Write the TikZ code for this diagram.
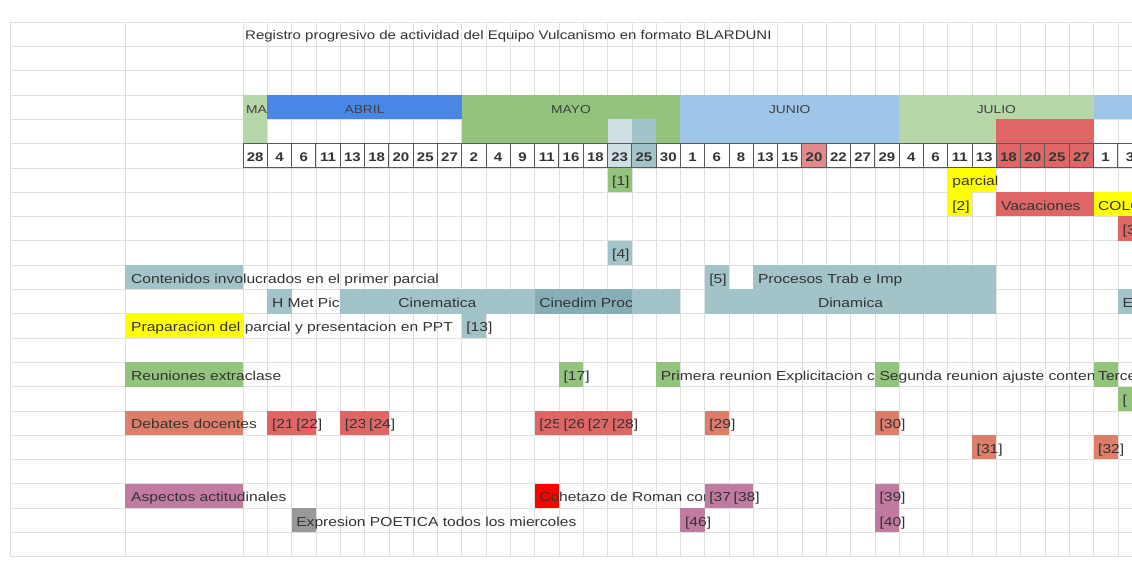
\documentclass[tikz,border=0pt]{standalone}
\usepackage{fontspec}
\setmainfont{Liberation Sans}[FakeStretch=1.2]
\definecolor{julg}{HTML}{B6D7A8}
\definecolor{abril}{HTML}{4A86E8}
\definecolor{mayo}{HTML}{93C47D}
\definecolor{junio}{HTML}{9FC5E8}
\definecolor{rojo}{HTML}{E06666}
\definecolor{rojoclaro}{HTML}{E58A8A}
\definecolor{gl}{HTML}{D0DFE3}
\definecolor{gb}{HTML}{A2C4C9}
\definecolor{cyand}{HTML}{86AEB7}
\definecolor{amar}{HTML}{FFFF00}
\definecolor{salm}{HTML}{DD7E6B}
\definecolor{rosa}{HTML}{C27BA0}
\definecolor{rojov}{HTML}{FF0000}
\definecolor{gris}{HTML}{999999}
\tikzset{
 gridline/.style={draw=black!12, line width=0.6pt},
 txt/.style={anchor=base west, inner sep=0pt, font=\fontsize{13}{15}\selectfont, text=black!80},
 ctr/.style={anchor=base, inner sep=0pt, font=\fontsize{13}{15}\selectfont, text=black!80},
 datebox/.style={draw=black!65, line width=0.9pt},
 datetxt/.style={anchor=base, inner sep=0pt, font=\bfseries\fontsize{12.5}{14}\selectfont, text=black!80},
 monthtxt/.style={anchor=base, inner sep=0pt, font=\fontsize{11.5}{13}\selectfont, text=black!75},
}
% fill columns #1..#2 in row #3 with colour #4
\newcommand{\Fc}[4]{\fill[#4] ({243+24.3*(#1)},{22+24.3*(#3)}) rectangle ({243+24.3*(#2+1)},{22+24.3*(#3+1)});}
% text: name, start col, row, clip-end col, text
\newcommand{\Tx}[5]{\begin{scope}
\clip ({243+24.3*(#2)},{22+24.3*(#3)}) rectangle ({243+24.3*(#4)},{22+24.3*(#3+1)});
\node[txt] (#1) at ({243+24.3*(#2)+4.5},{22+24.3*(#3)+18}) {#5};
\end{scope}}
% centred text: name, col from, col to, row, text
\newcommand{\Tc}[5]{\node[ctr] (#1) at ({243+24.3*((#2)+(#3)+1)/2},{22+24.3*(#4)+18}) {#5};}
% column B label: name, row, colour, text
\newcommand{\Bl}[4]{\fill[#3] (125,{22+24.3*(#2)}) rectangle (243,{22+24.3*(#2+1)});
\node[txt] (#1) at (131,{22+24.3*(#2)+18}) {#4};}
\begin{document}
\begin{tikzpicture}[x=1pt,y=-1pt]
\useasboundingbox (0,0) rectangle (1132,571);
\fill[white] (0,0) rectangle (1132,571);
% grid
\foreach \j in {0,...,22} \draw[gridline] (10,{22+24.3*\j}) -- (1132,{22+24.3*\j});
\foreach \x in {10,125} \draw[gridline] (\x,22) -- (\x,556.6);
\foreach \k in {0,...,37} \draw[gridline] ({243+24.3*\k},22) -- ({243+24.3*\k},556.6);
% title
\node[txt, font=\fontsize{12.5}{15}\selectfont] (title) at (245,39) {Registro progresivo de actividad del Equipo Vulcanismo en formato BLARDUNI};
% month rows
\Fc{0}{0}{3}{julg} \Fc{1}{8}{3}{abril} \Fc{9}{17}{3}{mayo} \Fc{18}{26}{3}{junio} \Fc{27}{34}{3}{julg} \Fc{35}{36}{3}{junio}
\Fc{0}{0}{4}{julg} \Fc{9}{14}{4}{mayo} \Fc{15}{15}{4}{gl} \Fc{16}{16}{4}{gb} \Fc{17}{17}{4}{mayo}
\Fc{18}{26}{4}{junio} \Fc{27}{30}{4}{julg} \Fc{31}{34}{4}{rojo}
\begin{scope}
\clip (243,94) rectangle (267.3,119);
\node[monthtxt, anchor=base west] (mar) at (246,113) {MARZO};
\end{scope}
\node[monthtxt] (mabril) at ({243+24.3*5},113) {ABRIL};
\node[monthtxt] (mmayo) at ({243+24.3*13.5},113) {MAYO};
\node[monthtxt] (mjunio) at ({243+24.3*22.5},113) {JUNIO};
\node[monthtxt] (mjulio) at ({243+24.3*31},113) {JULIO};
% date row
\Fc{15}{15}{5}{gl} \Fc{16}{16}{5}{gb} \Fc{23}{23}{5}{rojoclaro} \Fc{31}{34}{5}{rojo}
\foreach \k in {0,...,36} \draw[datebox] ({243+24.3*\k},{22+24.3*5}) rectangle ++(24.3,24.3);
\foreach \d [count=\i from 0] in {28,4,6,11,13,18,20,25,27,2,4,9,11,16,18,23,25,30,1,6,8,13,15,20,22,27,29,4,6,11,13,18,20,25,27,1,3}
  \node[datetxt] (d\i) at ({243+24.3*\i+12.15},{22+24.3*5+18.3}) {\d};
% row 6-9
\Fc{15}{15}{6}{mayo} \Tx{r1}{15}{6}{40}{[1]}
\Fc{29}{30}{6}{amar} \Tx{parcial}{29}{6}{40}{parcial}
\Fc{29}{29}{7}{amar} \Tx{r2}{29}{7}{30}{[2]}
\Fc{31}{34}{7}{rojo} \Tx{vac}{31}{7}{35}{Vacaciones}
\Fc{35}{36}{7}{amar} \Tx{colo}{35}{7}{37}{COLO}
\Fc{36}{36}{8}{rojo} \Tx{r3}{36}{8}{37}{[3]}
\Fc{15}{15}{9}{gb} \Tx{r4}{15}{9}{40}{[4]}
% row 10
\Bl{cont}{10}{gb}{Contenidos involucrados en el primer parcial}
\Fc{19}{19}{10}{gb} \Tx{r5}{19}{10}{21}{[5]}
\Fc{21}{30}{10}{gb} \Tx{proc}{21}{10}{40}{Procesos Trab e Imp}
% row 11
\Fc{1}{1}{11}{gb} \Tx{hmet}{1}{11}{4}{H Met Pic}
\Fc{4}{11}{11}{gb} \Tc{cine}{4}{11}{11}{Cinematica}
\Fc{12}{15}{11}{cyand} \Tx{cined}{12}{11}{16}{Cinedim Proc}
\Fc{16}{17}{11}{gb}
\Fc{19}{30}{11}{gb} \Tc{dina}{19}{30}{11}{Dinamica}
\Fc{36}{36}{11}{gb} \Tx{e36}{36}{11}{37}{E}
% row 12
\Bl{prep}{12}{amar}{Praparacion del parcial y presentacion en PPT}
\Fc{9}{9}{12}{gb} \Tx{r13}{9}{12}{40}{[13]}
% row 14-15
\Bl{reun}{14}{mayo}{Reuniones extraclase}
\Fc{13}{13}{14}{mayo} \Tx{r17}{13}{14}{17}{[17]}
\Fc{17}{17}{14}{mayo} \Tx{prim}{17}{14}{26}{Primera reunion Explicitacion con}
\Fc{26}{26}{14}{mayo} \Tx{seg}{26}{14}{35}{Segunda reunion ajuste contenidos}
\Fc{35}{35}{14}{mayo} \Tx{terc}{35}{14}{37}{Tercera}
\Fc{36}{36}{15}{mayo} \Tx{r15}{36}{15}{37}{[}
% row 16-17
\Bl{deb}{16}{salm}{Debates docentes}
\Fc{1}{2}{16}{rojo} \Tx{r21}{1}{16}{2}{[21]} \Tx{r22}{2}{16}{4}{[22]}
\Fc{4}{5}{16}{rojo} \Tx{r23}{4}{16}{5}{[23]} \Tx{r24}{5}{16}{7}{[24]}
\Fc{12}{15}{16}{rojo} \Tx{r25}{12}{16}{13}{[25]} \Tx{r26}{13}{16}{14}{[26]} \Tx{r27}{14}{16}{15}{[27]} \Tx{r28}{15}{16}{18}{[28]}
\Fc{19}{19}{16}{salm} \Tx{r29}{19}{16}{26}{[29]}
\Fc{26}{26}{16}{salm} \Tx{r30}{26}{16}{30}{[30]}
\Fc{30}{30}{17}{salm} \Tx{r31}{30}{17}{35}{[31]}
\Fc{35}{35}{17}{salm} \Tx{r32}{35}{17}{37}{[32]}
% row 19-20
\Bl{asp}{19}{rosa}{Aspectos actitudinales}
\Fc{12}{12}{19}{rojov} \Tx{cohe}{12}{19}{19}{Cohetazo de Roman con}
\Fc{19}{20}{19}{rosa} \Tx{r37}{19}{19}{20}{[37]} \Tx{r38}{20}{19}{26}{[38]}
\Fc{26}{26}{19}{rosa} \Tx{r39}{26}{19}{30}{[39]}
\Fc{2}{2}{20}{gris} \Tx{expr}{2}{20}{18}{Expresion POETICA todos los miercoles}
\Fc{18}{18}{20}{rosa} \Tx{r46}{18}{20}{26}{[46]}
\Fc{26}{26}{20}{rosa} \Tx{r40}{26}{20}{30}{[40]}
\end{tikzpicture}
\end{document}
